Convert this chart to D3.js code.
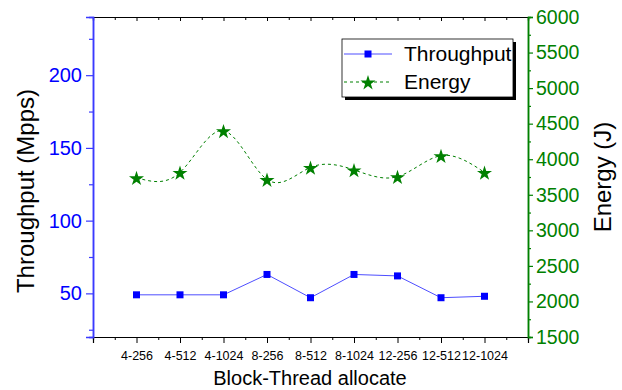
<!DOCTYPE html>
<html>
<head>
<meta charset="utf-8">
<script src="https://cdn.jsdelivr.net/npm/d3@7"></script>
<style>
  body { margin: 0; background: #fff; }
  svg { display: block; font-family: "Liberation Sans", Arial, sans-serif; }
</style>
</head>
<body>
<svg id="chart" width="622" height="390"></svg>
<script>
// categories and values
const categories = ["4-256", "4-512", "4-1024", "8-256", "8-512", "8-1024", "12-256", "12-512", "12-1024"];
const throughput = [49, 49, 49, 63, 47, 63, 62, 47, 48];
const energy = [3740, 3815, 4400, 3715, 3885, 3850, 3755, 4050, 3815];
const leftTicks = [50, 100, 150, 200];
const rightTicks = [1500, 2000, 2500, 3000, 3500, 4000, 4500, 5000, 5500, 6000];

const m = { left: 93, right: 528, top: 17, bottom: 337 };
const BLUE = "#0000ff";
const GREEN = "#008000";

const svg = d3.select("#chart");

// categories sit at 1..9 on a 0..10 band
const x = d3.scaleLinear().domain([0, categories.length + 1]).range([m.left, m.right]);
const yL = d3.scaleLinear().domain([20, 240]).range([m.bottom, m.top]);
const yR = d3.scaleLinear().domain([1500, 6000]).range([m.bottom, m.top]);

const idx = d3.range(1, categories.length + 1);
const halfTicks = d3.range(0.5, categories.length + 1, 1).concat([0, categories.length + 1]);

// bottom axis: major ticks on categories, minor between
const gx = svg.append("g").attr("transform", `translate(0,${m.bottom})`);
gx.call(d3.axisBottom(x).tickValues(idx).tickSize(6).tickFormat((d) => categories[d - 1]));
gx.append("g").call(d3.axisBottom(x).tickValues(halfTicks).tickSize(3).tickFormat(""));
gx.selectAll("path.domain").attr("stroke", "#000").attr("stroke-width", 1.2);
gx.selectAll(".tick line").attr("stroke", "#000");
gx.selectAll(".tick text").attr("font-size", 12.5).attr("fill", "#000").attr("dy", "1.1em");

// top axis mirror: inward ticks
const gt = svg.append("g").attr("transform", `translate(0,${m.top})`);
gt.call(d3.axisTop(x).tickValues(idx).tickSize(-4).tickFormat(""));
gt.append("g").call(d3.axisTop(x).tickValues(halfTicks).tickSize(-3).tickFormat(""));
gt.selectAll("path.domain").attr("stroke", "#000").attr("stroke-width", 1.2);

// left axis (blue)
const gl = svg.append("g").attr("transform", `translate(${m.left},0)`);
gl.call(d3.axisLeft(yL).tickValues(leftTicks).tickSize(7).tickPadding(4));
gl.append("g").call(d3.axisLeft(yL).tickValues([25, 75, 125, 175, 225]).tickSize(4).tickFormat(""));
gl.selectAll("path.domain").attr("stroke", "#3a3aff").attr("stroke-width", 1.5);
gl.selectAll(".tick line").attr("stroke", "#3a3aff").attr("stroke-width", 1.2);
gl.selectAll(".tick text").attr("font-size", 20).attr("fill", BLUE);

// right axis (green)
const gr = svg.append("g").attr("transform", `translate(${m.right},0)`);
gr.call(d3.axisRight(yR).tickValues(rightTicks).tickSize(5).tickPadding(3).tickFormat(d3.format("d")));
gr.append("g").call(d3.axisRight(yR).tickValues(d3.range(1750, 6000, 500)).tickSize(3).tickFormat(""));
gr.selectAll("path.domain").attr("stroke", GREEN).attr("stroke-width", 1.5);
gr.selectAll(".tick line").attr("stroke", GREEN).attr("stroke-width", 1.2);
gr.selectAll(".tick text").attr("font-size", 19.5).attr("fill", GREEN);

// axis titles
svg.append("text")
  .attr("transform", `translate(34,${(m.top + m.bottom) / 2 + 14}) rotate(-90)`)
  .attr("text-anchor", "middle").attr("font-size", 24).attr("fill", "#000")
  .text("Throughput (Mpps)");
svg.append("text")
  .attr("transform", `translate(611,177) rotate(-90)`)
  .attr("text-anchor", "middle").attr("font-size", 24).attr("fill", "#000")
  .text("Energy (J)");
svg.append("text")
  .attr("x", 310).attr("y", 385)
  .attr("text-anchor", "middle").attr("font-size", 20).attr("fill", "#000")
  .text("Block-Thread allocate");

// energy: dashed smooth curve with stars
const star = d3.symbol().type(d3.symbolStar).size(70);
const energyLine = d3.line().x((d, i) => x(i + 1)).y((d) => yR(d)).curve(d3.curveNatural);
svg.append("path").datum(energy)
  .attr("d", energyLine).attr("fill", "none")
  .attr("stroke", GREEN).attr("stroke-width", 1).attr("stroke-dasharray", "3,3");
svg.selectAll("path.star").data(energy).join("path")
  .attr("class", "star")
  .attr("d", star)
  .attr("transform", (d, i) => `translate(${x(i + 1)},${yR(d) + 1})`)
  .attr("fill", GREEN);

// throughput: thin blue line with squares
const tpLine = d3.line().x((d, i) => x(i + 1)).y((d) => yL(d));
svg.append("path").datum(throughput)
  .attr("d", tpLine).attr("fill", "none")
  .attr("stroke", BLUE).attr("stroke-width", 0.7);
svg.selectAll("rect.sq").data(throughput).join("rect")
  .attr("class", "sq")
  .attr("x", (d, i) => x(i + 1) - 3.5).attr("y", (d) => yL(d) - 3.5)
  .attr("width", 7).attr("height", 7).attr("fill", BLUE);

// legend with drop shadow
const lg = svg.append("g");
const lx = 342, ly = 39, lw = 171, lh = 58;
lg.append("rect").attr("x", lx + 3).attr("y", ly + 3).attr("width", lw).attr("height", lh).attr("fill", "#000");
lg.append("rect").attr("x", lx).attr("y", ly).attr("width", lw).attr("height", lh)
  .attr("fill", "#fff").attr("stroke", "#000").attr("stroke-width", 0.8);

const items = [
  { name: "Throughput", y: 54 },
  { name: "Energy", y: 82 }
];
lg.append("line").attr("x1", 344).attr("x2", 392).attr("y1", items[0].y).attr("y2", items[0].y)
  .attr("stroke", BLUE).attr("stroke-width", 0.7);
lg.append("rect").attr("x", 368 - 3.5).attr("y", items[0].y - 3.5).attr("width", 7).attr("height", 7).attr("fill", BLUE);
lg.append("line").attr("x1", 344).attr("x2", 392).attr("y1", items[1].y).attr("y2", items[1].y)
  .attr("stroke", GREEN).attr("stroke-width", 1).attr("stroke-dasharray", "3,3");
lg.append("path").attr("d", star).attr("transform", `translate(368,${items[1].y + 1})`).attr("fill", GREEN);
lg.selectAll("text.lt").data(items).join("text")
  .attr("class", "lt")
  .attr("x", 404).attr("y", (d) => d.y + 7)
  .attr("font-size", 21).attr("fill", "#000")
  .text((d) => d.name);
</script>
</body>
</html>
